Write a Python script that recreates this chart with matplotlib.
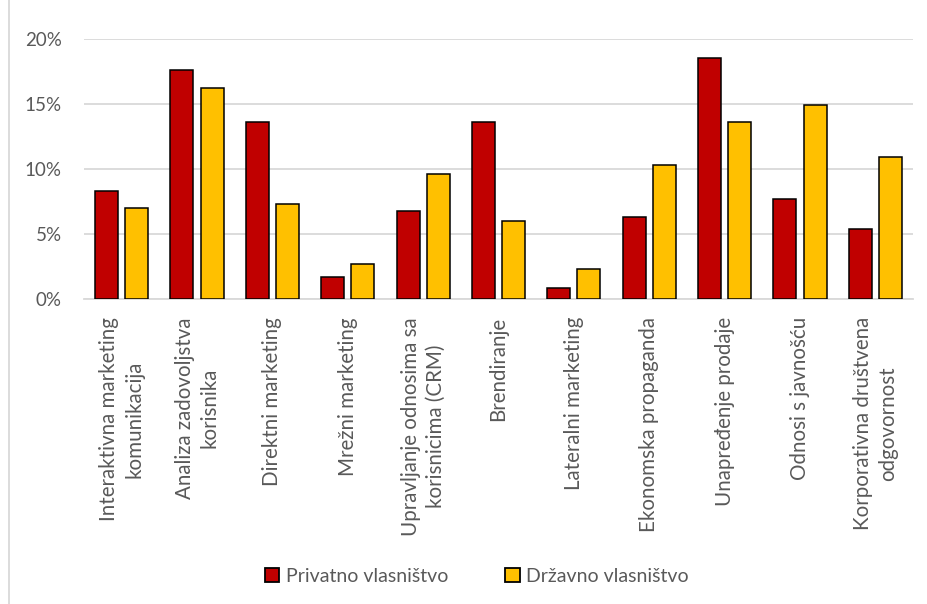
import matplotlib
matplotlib.use("Agg")
import matplotlib.pyplot as plt
from matplotlib.lines import Line2D
from matplotlib.ticker import FuncFormatter
import numpy as np

plt.rcParams['font.family'] = ['Lato', 'DejaVu Sans']

categories = [
    "Interaktivna marketing\nkomunikacija",
    "Analiza zadovoljstva\nkorisnika",
    "Direktni marketing",
    "Mrežni marketing",
    "Upravljanje odnosima sa\nkorisnicima (CRM)",
    "Brendiranje",
    "Lateralni marketing",
    "Ekonomska propaganda",
    "Unapređenje prodaje",
    "Odnosi s javnošću",
    "Korporativna društvena\nodgovornost",
]
privatno = [8.3, 17.6, 13.6, 1.7, 6.8, 13.6, 0.85, 6.3, 18.5, 7.7, 5.4]
drzavno = [7.0, 16.2, 7.3, 2.7, 9.6, 6.0, 2.3, 10.3, 13.6, 14.9, 10.9]
series_names = ["Privatno vlasništvo", "Državno vlasništvo"]
yticks = [0, 5, 10, 15, 20]

red = "#C00000"
gold = "#FFC000"
text_col = "#595959"
grid_col = "#D9D9D9"

W, H = 928, 604
fig = plt.figure(figsize=(W / 100, H / 100), dpi=100)
ax = fig.add_axes([84 / W, 1 - 299 / H, (913 - 84) / W, (299 - 39) / H])

x = np.arange(len(categories))
bw = 0.305
off = 0.2
ax.bar(x - off, privatno, bw, color=red, edgecolor="black", linewidth=1.1,
       label=series_names[0], zorder=3)
ax.bar(x + off, drzavno, bw, color=gold, edgecolor="black", linewidth=1.1,
       label=series_names[1], zorder=3)

ax.set_xlim(-0.5, len(categories) - 0.5)
ax.set_ylim(0, 20)
ax.set_yticks(yticks)
ax.yaxis.set_major_formatter(FuncFormatter(lambda v, p: f"{v:.0f}%"))
ax.grid(axis="y", color=grid_col, linewidth=1.3, zorder=0)
ax.set_axisbelow(True)
for s in ["top", "right", "left"]:
    ax.spines[s].set_visible(False)
ax.spines["bottom"].set_color(grid_col)
ax.spines["bottom"].set_linewidth(1.3)
ax.spines["bottom"].set_zorder(1)

ax.set_xticks(x)
ax.set_xticklabels(categories, rotation=90, ha="center", va="top",
                   multialignment="center", fontsize=14.8, color=text_col,
                   linespacing=1.3)
ax.tick_params(axis="x", length=0, pad=13)
ax.tick_params(axis="y", length=0, pad=16, labelsize=13.5, labelcolor=text_col)

handles = [
    plt.Rectangle((0, 0), 1, 1, facecolor=red, edgecolor="black", linewidth=1.3),
    plt.Rectangle((0, 0), 1, 1, facecolor=gold, edgecolor="black", linewidth=1.3),
]
leg = fig.legend(handles, series_names, loc="center",
                 bbox_to_anchor=(477 / W, 1 - 576 / H), ncol=2, frameon=False,
                 fontsize=14, handlelength=0.75, handleheight=0.75,
                 handletextpad=0.35, columnspacing=2.9)
for t in leg.get_texts():
    t.set_color(text_col)

# chart area border on the left edge
fig.add_artist(Line2D([9 / W, 9 / W], [0, 1], color=grid_col, linewidth=1.3,
                      transform=fig.transFigure))

fig.savefig("out.png", dpi=100)
